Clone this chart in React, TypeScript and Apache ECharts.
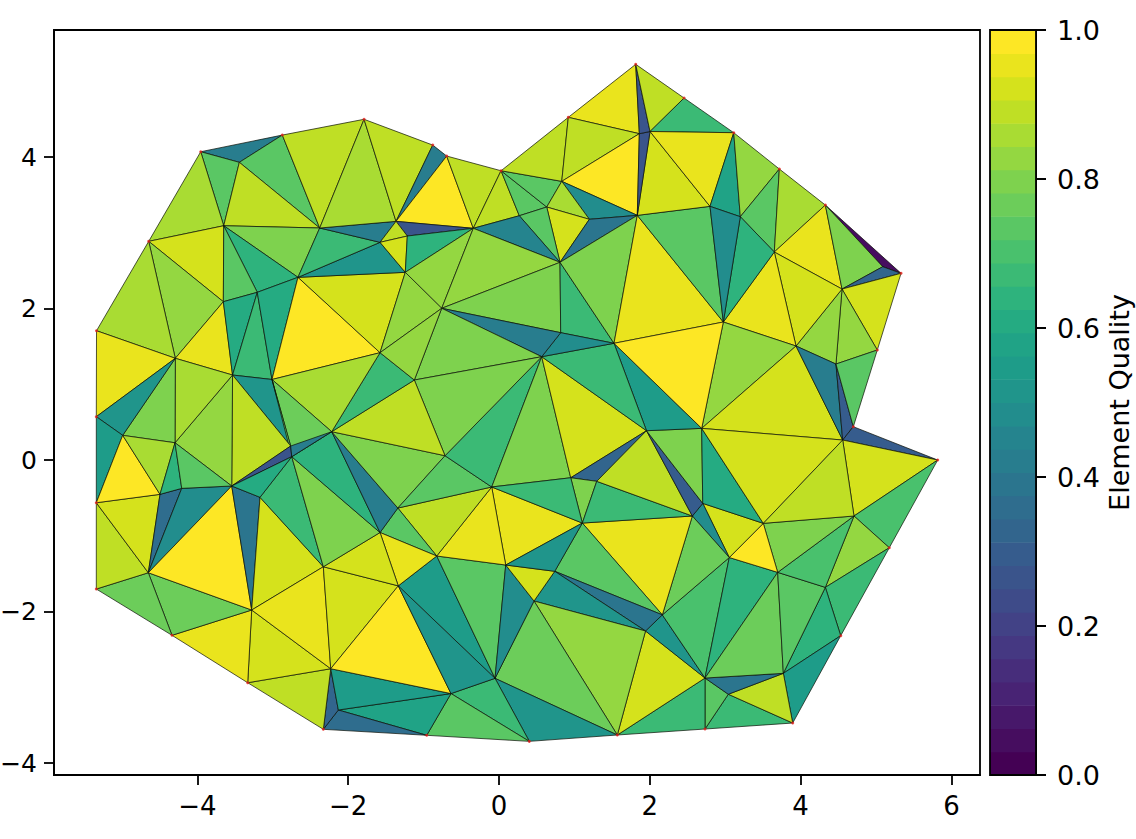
import React, { useEffect, useRef } from "react";
import * as echarts from "echarts";

const nodeX = [
  -3.956, -2.874, -1.79, -0.879, -0.694, 0.027, 0.919, 1.813, 2.454, 3.113,
  3.718, 4.328, 5.332, 5.017, 4.699, 5.818, 5.176, 4.532, 3.895, 2.732,
  1.569, 0.402, -0.959, -2.33, -3.333, -4.337, -5.341, -5.341, -5.341, -5.338,
  -4.646, -3.444, -3.651, -2.378, -2.666, -3.206, -3.656, -4.293, -3.534, -3.011,
  -1.366, -1.216, -1.578, -1.243, -0.341, 0.269, 0.633, 0.832, 1.198, 0.809,
  1.834, 1.861, 2.003, -0.76, 2.798, 3.2, 3.651, 4.549, 2.975, 3.939,
  4.469, 0.818, 1.525, 0.566, -1.578, -1.123, -0.716, 1.956, 0.951, 1.296,
  -0.097, 1.105, -1.342, -1.578, -0.826, 0.089, 0.739, 2.688, 4.558, 2.702,
  2.564, 3.505, 4.708, 3.054, 3.696, 4.328, 2.166, 1.943, 3.771, 2.732,
  3.041, -4.991, -4.297, -4.496, -4.208, -3.545, -2.763, -2.749, -2.219, -3.17,
  -4.651, -3.28, -2.33, -1.336, -2.232, -0.637, -2.131, -0.053, 0.464, 5.089,
];
const nodeY = [
  4.07, 4.29, 4.498, 4.158, 4.013, 3.819, 4.524, 5.224, 4.779, 4.321,
  3.842, 3.366, 2.465, 1.452, 0.44, 0, -1.158, -2.319, -3.472, -3.551,
  -3.63, -3.714, -3.634, -3.555, -2.94, -2.314, -1.703, -0.564, 0.572, 1.707,
  2.887, 3.93, 3.093, 3.063, 2.412, 2.214, 2.09, 1.343, 1.122, 1.063,
  3.151, 2.957, 2.874, 2.478, 3.059, 3.225, 3.34, 3.679, 3.178, 2.61,
  3.23, 4.308, 4.337, 2.003, 3.349, 3.212, 2.746, 2.257, 1.822, 1.505,
  1.267, 1.681, 1.541, 1.364, 1.417, 1.056, 0.057, 0.387, -0.234, -0.281,
  -0.356, -0.832, -0.634, -0.957, -1.267, -1.386, -1.469, 0.418, 0.264, -0.572,
  -0.739, -0.836, -0.739, -1.287, -1.483, -1.681, -2.044, -2.257, -2.816, -2.878,
  -3.092, 0.326, 0.228, -0.453, -0.374, -0.343, 0.185, 0.044, 0.374, -0.492,
  -1.488, -1.98, -1.409, -1.661, -2.755, -3.083, -3.3, -2.882, -1.861, 2.552,
];
const boundaryNodes = Array.from({ length: 31 }, (_, i) => i);

// three node numbers, then the element's quality
const elements: number[][] = [
  [0, 1, 31, 0.41], [0, 31, 32, 0.72], [31, 1, 33, 0.72], [31, 33, 32, 0.875], [1, 2, 33, 0.9],
  [0, 32, 30, 0.87], [30, 32, 36, 0.93], [32, 33, 34, 0.8], [32, 34, 35, 0.65], [32, 35, 36, 0.72],
  [30, 36, 37, 0.82], [30, 37, 29, 0.87], [29, 37, 28, 0.95], [36, 37, 38, 0.94], [36, 38, 35, 0.6],
  [35, 38, 39, 0.68], [35, 39, 34, 0.62], [34, 39, 64, 0.985], [34, 64, 43, 0.92], [34, 42, 43, 0.53],
  [33, 42, 34, 0.68], [33, 40, 42, 0.41], [2, 33, 40, 0.87], [2, 3, 40, 0.875], [3, 4, 40, 0.43],
  [4, 44, 40, 0.985], [4, 5, 44, 0.9], [5, 45, 44, 0.875], [5, 46, 45, 0.72], [5, 47, 46, 0.73],
  [5, 6, 47, 0.875], [6, 7, 51, 0.94], [6, 51, 47, 0.885], [47, 51, 50, 0.985], [47, 50, 48, 0.47],
  [47, 48, 46, 0.87], [46, 48, 49, 0.93], [48, 50, 49, 0.38], [46, 49, 45, 0.73], [45, 49, 44, 0.45],
  [44, 40, 41, 0.28], [40, 42, 41, 0.88], [42, 43, 41, 0.92], [41, 43, 44, 0.63], [43, 44, 53, 0.82],
  [44, 49, 53, 0.82], [49, 53, 61, 0.79], [49, 61, 62, 0.66], [49, 62, 50, 0.81], [50, 62, 58, 0.955],
  [50, 58, 54, 0.74], [50, 54, 52, 0.93], [50, 52, 51, 0.27], [7, 52, 51, 0.27], [7, 8, 52, 0.9],
  [8, 9, 52, 0.67], [52, 9, 54, 0.955], [54, 9, 55, 0.58], [9, 10, 55, 0.82], [10, 56, 55, 0.72],
  [10, 11, 56, 0.85], [11, 57, 56, 0.955], [11, 12, 109, 0.06], [11, 109, 57, 0.79], [109, 12, 57, 0.33],
  [57, 12, 13, 0.925], [57, 13, 60, 0.82], [57, 60, 59, 0.83], [57, 59, 56, 0.91], [56, 59, 58, 0.96],
  [56, 58, 55, 0.65], [55, 58, 54, 0.47], [58, 59, 77, 0.84], [59, 78, 77, 0.925], [59, 60, 78, 0.43],
  [60, 14, 78, 0.3], [60, 13, 14, 0.72], [14, 15, 78, 0.31], [78, 15, 82, 0.925], [15, 16, 82, 0.71],
  [82, 16, 85, 0.84], [16, 17, 85, 0.66], [85, 17, 88, 0.63], [17, 18, 88, 0.55], [18, 19, 90, 0.66],
  [19, 89, 90, 0.74], [18, 88, 90, 0.9], [88, 89, 90, 0.39], [89, 19, 20, 0.67], [20, 87, 89, 0.93],
  [87, 86, 89, 0.52], [86, 83, 89, 0.69], [83, 84, 89, 0.65], [84, 88, 89, 0.78], [84, 85, 88, 0.73],
  [84, 82, 85, 0.7], [81, 82, 84, 0.79], [81, 84, 83, 0.985], [79, 81, 83, 0.92], [79, 83, 80, 0.47],
  [80, 83, 86, 0.75], [71, 80, 86, 0.96], [71, 86, 76, 0.72], [76, 86, 87, 0.38], [76, 87, 108, 0.53],
  [108, 87, 20, 0.83], [108, 20, 107, 0.76], [107, 20, 21, 0.53], [107, 21, 105, 0.66], [105, 21, 22, 0.72],
  [105, 22, 106, 0.58], [106, 22, 23, 0.37], [106, 23, 104, 0.32], [104, 105, 106, 0.55], [104, 23, 24, 0.905],
  [104, 24, 101, 0.93], [24, 25, 101, 0.955], [25, 100, 101, 0.76], [25, 26, 100, 0.76], [26, 27, 100, 0.88],
  [27, 93, 100, 0.92], [100, 93, 94, 0.37], [100, 94, 95, 0.47], [100, 95, 101, 0.985], [95, 99, 101, 0.39],
  [99, 102, 101, 0.925], [101, 102, 104, 0.95], [102, 103, 104, 0.925], [103, 105, 104, 0.985], [103, 74, 107, 0.55],
  [103, 107, 105, 0.53], [74, 75, 107, 0.72], [75, 108, 107, 0.47], [75, 76, 108, 0.93], [70, 71, 75, 0.955],
  [75, 71, 76, 0.53], [70, 75, 74, 0.955], [70, 74, 72, 0.875], [72, 74, 73, 0.72], [73, 74, 103, 0.95],
  [73, 103, 102, 0.92], [99, 102, 97, 0.66], [97, 102, 73, 0.79], [98, 97, 73, 0.65], [98, 73, 72, 0.42],
  [98, 72, 66, 0.8], [70, 72, 66, 0.72], [66, 70, 63, 0.66], [70, 68, 63, 0.79], [63, 68, 67, 0.91],
  [68, 69, 67, 0.33], [68, 71, 69, 0.81], [70, 71, 68, 0.67], [69, 71, 80, 0.67], [69, 80, 67, 0.9],
  [67, 80, 79, 0.31], [67, 79, 77, 0.79], [77, 79, 81, 0.6], [77, 81, 78, 0.93], [78, 81, 82, 0.875],
  [62, 67, 77, 0.55], [62, 77, 58, 0.985], [63, 62, 67, 0.68], [61, 62, 63, 0.47], [53, 61, 63, 0.43],
  [53, 63, 65, 0.8], [65, 63, 66, 0.8], [65, 66, 98, 0.875], [64, 65, 98, 0.66], [64, 98, 39, 0.86],
  [39, 98, 97, 0.75], [38, 39, 96, 0.53], [39, 97, 96, 0.75], [38, 96, 95, 0.875], [95, 96, 97, 0.27],
  [96, 98, 97, 0.42], [95, 97, 99, 0.6], [38, 95, 92, 0.84], [38, 92, 37, 0.87], [37, 92, 91, 0.8],
  [37, 91, 28, 0.53], [28, 91, 27, 0.55], [91, 93, 27, 0.97], [91, 92, 93, 0.87], [92, 94, 93, 0.63],
  [92, 95, 94, 0.72], [64, 43, 53, 0.82], [64, 53, 65, 0.82],
];

const xTicks = [-4, -2, 0, 2, 4, 6];
const yTicks = [-4, -2, 0, 2, 4];
const colorbarTicks = [0, 0.2, 0.4, 0.6, 0.8, 1];
const colorbarBands = 32;
const colorbarTitle = "Element Quality";

const viridis = [
  "#440154", "#471365", "#482475", "#463480", "#414487", "#3b528b", "#355f8d", "#2f6c8e", "#2a788e", "#25848e", "#21918c",
  "#1e9c89", "#22a884", "#2fb47c", "#44bf70", "#5ec962", "#7ad151", "#9bd93c", "#bddf26", "#dfe318", "#fde725",
];
const rgb = (h: string) => [1, 3, 5].map((i) => parseInt(h.slice(i, i + 2), 16));
function sample(t: number) {
  const p = Math.min(0.9999, Math.max(0, t)) * (viridis.length - 1);
  const i = Math.floor(p);
  const f = p - i;
  const a = rgb(viridis[i]);
  const b = rgb(viridis[i + 1]);
  const c = a.map((v, k) => Math.round(v + (b[k] - v) * f));
  return `rgb(${c[0]},${c[1]},${c[2]})`;
}
function bandColor(q: number) {
  const b = Math.min(colorbarBands - 1, Math.floor(q * colorbarBands));
  return sample(b / (colorbarBands - 1));
}
const minus = (v: number) => (v < 0 ? `\u2212${Math.abs(v)}` : `${v}`);
const font = "DejaVu Sans";

export default function App() {
  const ref = useRef<HTMLDivElement>(null);
  useEffect(() => {
    const chart = echarts.init(ref.current!, undefined, { renderer: "svg" });
    const tickStyle = { show: true, length: 10, inside: false, lineStyle: { color: "#000", width: 1.8 } };
    const lineStyle = { show: true, onZero: false, lineStyle: { color: "#000", width: 1.8 } };
    const labelStyle = { fontFamily: font, color: "#000" };
    chart.setOption({
      animation: false,
      grid: [
        { left: 54, top: 30, width: 926, height: 745, show: true, borderColor: "#000", borderWidth: 1.8, backgroundColor: "#fff", outerBoundsMode: "none" },
        { left: 990, top: 30, width: 46, height: 745, show: false, outerBoundsMode: "none" },
      ],
      xAxis: [
        {
          gridIndex: 0, type: "value", min: -5.902, max: 6.379, position: "bottom", splitLine: { show: false },
          axisLine: lineStyle,
          axisTick: { ...tickStyle, customValues: xTicks },
          axisLabel: { ...labelStyle, fontSize: 26, customValues: xTicks, formatter: minus, margin: 18 },
        },
        { gridIndex: 1, type: "value", min: 0, max: 1, show: false },
      ],
      yAxis: [
        {
          gridIndex: 0, type: "value", min: -4.158, max: 5.677, position: "left", splitLine: { show: false },
          axisLine: lineStyle,
          axisTick: { ...tickStyle, customValues: yTicks },
          axisLabel: { ...labelStyle, fontSize: 25, customValues: yTicks, formatter: minus, margin: 17 },
        },
        {
          gridIndex: 1, type: "value", min: 0, max: 1, position: "right", splitLine: { show: false },
          axisLine: lineStyle,
          axisTick: { ...tickStyle, customValues: colorbarTicks },
          axisLabel: { ...labelStyle, fontSize: 27, customValues: colorbarTicks, formatter: (v: number) => v.toFixed(1), margin: 21 },
          name: colorbarTitle, nameLocation: "middle", nameRotate: 90, nameGap: 71,
          nameTextStyle: { fontFamily: font, fontSize: 27, lineHeight: 24, color: "#000" },
        },
      ],
      series: [
        {
          type: "custom", xAxisIndex: 0, yAxisIndex: 0, silent: true, z: 2, clip: false,
          data: elements.map((e) => [
            nodeX[e[0]], nodeY[e[0]], nodeX[e[1]], nodeY[e[1]], nodeX[e[2]], nodeY[e[2]], e[3],
          ]),
          encode: { x: [0, 2, 4], y: [1, 3, 5] },
          renderItem: (_: any, api: any) => ({
            type: "polygon",
            shape: {
              points: [0, 2, 4].map((k) => api.coord([api.value(k), api.value(k + 1)])),
            },
            style: { fill: bandColor(api.value(6)), stroke: "#0a0f05", lineWidth: 0.7 },
          }),
        },
        {
          type: "scatter", xAxisIndex: 0, yAxisIndex: 0, silent: true, z: 3, symbolSize: 3,
          itemStyle: { color: "#e3201c" },
          data: boundaryNodes.map((i) => [nodeX[i], nodeY[i]]),
        },
        {
          type: "custom", xAxisIndex: 1, yAxisIndex: 1, silent: true, z: 2, clip: false,
          data: Array.from({ length: colorbarBands }, (_, i) => [i]),
          encode: { y: 0 },
          renderItem: (_: any, api: any) => {
            const i = api.value(0);
            const a = api.coord([0, i / colorbarBands]);
            const b = api.coord([1, (i + 1) / colorbarBands]);
            return {
              type: "rect",
              shape: { x: a[0], y: b[1], width: b[0] - a[0], height: a[1] - b[1] + 0.6 },
              style: { fill: sample(i / (colorbarBands - 1)) },
            };
          },
        },
        {
          type: "custom", xAxisIndex: 1, yAxisIndex: 1, silent: true, z: 4, clip: false,
          data: [[0, 0, 1, 1]],
          encode: { x: [0, 2], y: [1, 3] },
          renderItem: (_: any, api: any) => {
            const a = api.coord([api.value(0), api.value(1)]);
            const b = api.coord([api.value(2), api.value(3)]);
            return {
              type: "rect",
              shape: { x: a[0], y: b[1], width: b[0] - a[0], height: a[1] - b[1] },
              style: { fill: "none", stroke: "#000", lineWidth: 1.8 },
            };
          },
        },
        {
          type: "custom", xAxisIndex: 1, yAxisIndex: 1, silent: true, z: 4, clip: false,
          data: colorbarTicks.map((v) => [1, v]),
          encode: { x: 0, y: 1 },
          renderItem: (_: any, api: any) => {
            const p = api.coord([api.value(0), api.value(1)]);
            return {
              type: "line",
              shape: { x1: p[0], y1: p[1], x2: p[0] + 10, y2: p[1] },
              style: { stroke: "#000", lineWidth: 1.8 },
            };
          },
        },
      ],
    });
    return () => chart.dispose();
  }, []);
  return <div ref={ref} style={{ position: "absolute", left: 0, top: 0, width: 1136, height: 839 }} />;
}
